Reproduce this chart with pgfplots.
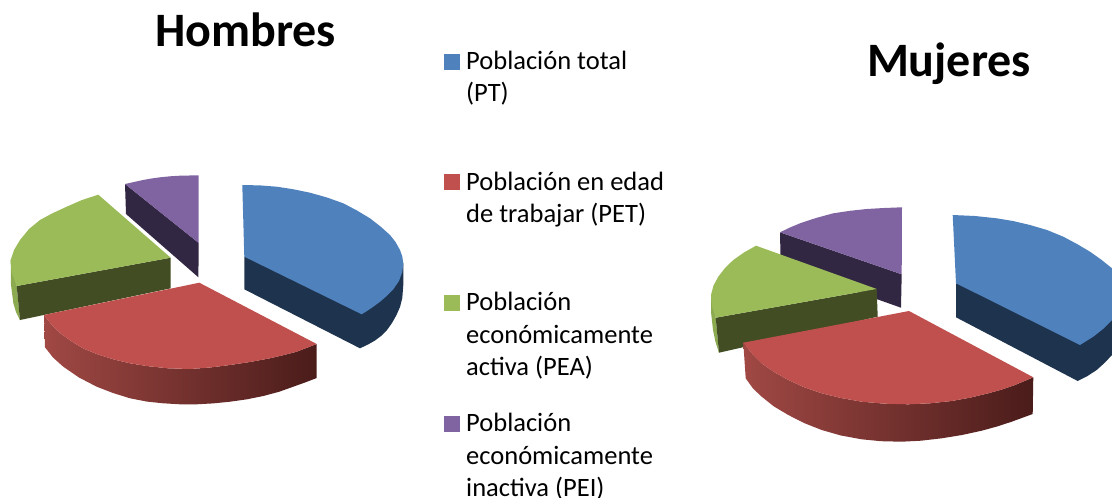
\documentclass[border=0pt]{standalone}
\usepackage{pgfplots}
\pgfplotsset{compat=1.18}
\usepackage{fontspec}
\setmainfont{Carlito}
\definecolor{cb}{RGB}{79,129,189}
\definecolor{cr}{RGB}{192,80,77}
\definecolor{cg}{RGB}{155,187,89}
\definecolor{cp}{RGB}{128,100,162}
\definecolor{db}{RGB}{30,51,77}
\definecolor{dg}{RGB}{66,77,35}
\definecolor{dp}{RGB}{50,39,66}
\definecolor{sg}{RGB}{140,170,80}
\definecolor{rl}{RGB}{160,72,68}
\definecolor{rm}{RGB}{122,50,48}
\definecolor{rd}{RGB}{74,28,26}
\newcommand{\leg}[3]{\node[anchor=base west,inner sep=0pt,font=\fontsize{26.5}{30}\selectfont] at (axis cs:#1,#2) {#3};}
\begin{document}
\begin{tikzpicture}
\useasboundingbox (0,0) rectangle (1112pt,498pt);
\begin{axis}[at={(0,0)},anchor=south west,scale only axis,width=1112pt,height=498pt,xmin=0,xmax=1112,ymin=0,ymax=498,y dir=reverse,hide axis]
% --- Hombres ---
\addplot[fill=dp,draw=none] coordinates {(125,184)(198.7,243)(198.4,277.3)(126,214)} --cycle;
\addplot[fill=cp,draw=none] coordinates {(198.7,243)(125,184)(134,182)(143,180)(151,178.6)(160,177.3)(170,176.3)(180,175.7)(198.7,175.3)} --cycle;
\addplot[fill=sg,draw=none] coordinates {(10.7,260)(16.7,286)(20,320)(16,312)(13.3,303)(11,285)} --cycle;
\addplot[fill=dg,draw=none] coordinates {(16.7,286)(170.7,257.7)(170.7,288.3)(20,320)} --cycle;
\addplot[fill=cg,draw=none] coordinates {(170.7,257.7)(98.3,194.7)(82,200)(66.7,206.7)(52,213.5)(40,220)(29,229)(20,240)(14,250)(10.7,260)(11.5,272)(16.7,286)} --cycle;
\addplot[left color=rl,middle color=rm,right color=rd,draw=none] coordinates {(44,315)(51,324)(60,333)(71,341)(83.3,348.5)(98,354.5)(113.3,359.3)(130,363.3)(146.7,366)(168,368.3)(190,369)(210,367.5)(230,365)(250,362)(270,358.3)(284,355)(296.7,351.7)(316.7,344)(316.7,378)(305,382.5)(293.3,386.7)(279,391.8)(263.3,396)(247,399.3)(230,401.7)(213,403.4)(196.7,404.3)(180,404.3)(163.3,403.3)(147,401.6)(130,398.3)(113,393)(96.7,386.7)(79,377.5)(63.3,366.7)(53,357.5)(45,347.3)} --cycle;
\addplot[fill=cr,draw=none] coordinates {(199.3,282.7)(44,315)(51,324)(60,333)(71,341)(83.3,348.5)(98,354.5)(113.3,359.3)(130,363.3)(146.7,366)(168,368.3)(190,369)(210,367.5)(230,365)(250,362)(270,358.3)(284,355)(296.7,351.7)(316.7,344)} --cycle;
\addplot[fill=db,draw=none] coordinates {(244.3,256.7)(244.3,289.3)(360,348.3)(368,344.5)(375,340.5)(381,336)(387,330)(392,323)(396.5,315)(400,307)(402.3,298)(403.3,285)(403.3,263.3)} --cycle;
\addplot[fill=cb,draw=none] coordinates {(242.3,185)(260,185.4)(276.7,186.7)(293,189.2)(310,192.7)(327,197.5)(343.3,203.3)(357,210.5)(370,218.3)(380.5,226.5)(390,235)(395.5,242)(400,250)(402.3,256.5)(403.3,263.3)(402.3,272)(399,281)(393.5,289)(386.7,296)(380,301.8)(373.3,306.7)(367,311)(361.7,314.3)(244.3,256.7)} --cycle;
% --- Mujeres ---
\addplot[fill=dp,draw=none] coordinates {(780,232.3)(901.7,274.3)(901,307.7)(780.7,265)} --cycle;
\addplot[fill=cp,draw=none] coordinates {(901.7,274.3)(780,232.3)(790,227.5)(800,223.3)(816,218)(833.3,213.3)(850,210.8)(866.7,209)(884,208)(902,207.3)} --cycle;
\addplot[fill=sg,draw=none] coordinates {(711,295)(715.7,317.7)(719,352.7)(715.5,342)(713,330)(711,312)} --cycle;
\addplot[fill=dg,draw=none] coordinates {(715.7,317.7)(876.7,289)(877.7,316.7)(719,352.7)} --cycle;
\addplot[fill=cg,draw=none] coordinates {(876.7,289)(756,245.7)(744,252.5)(733.3,260)(725,268)(718.3,276.7)(713.5,285.5)(711,295)(712,306)(715.7,317.7)} --cycle;
\addplot[left color=rl,middle color=rm,right color=rd,draw=none] coordinates {(743.3,342.7)(752,353.5)(761.7,363.3)(774,372)(788.3,380)(804,387.2)(821.7,393.3)(841,398)(861.7,401.7)(885,403.7)(908.3,404.3)(930,403.3)(951.7,401)(970,397.7)(988.3,393.3)(1002,389.5)(1015,385)(1033.3,377.3)(1032.7,414)(1011.7,421.7)(997,426.5)(981.7,430.7)(962,435)(941.7,438.3)(921,440.7)(901.7,441.7)(881,441.2)(861.7,439.3)(841,435.5)(821.7,430)(804,423)(788.3,415)(774,406.5)(761.7,396.7)(753,388.5)(745.7,378.3)} --cycle;
\addplot[fill=cr,draw=none] coordinates {(909,311)(743.3,342.7)(752,353.5)(761.7,363.3)(774,372)(788.3,380)(804,387.2)(821.7,393.3)(841,398)(861.7,401.7)(885,403.7)(908.3,404.3)(930,403.3)(951.7,401)(970,397.7)(988.3,393.3)(1002,389.5)(1015,385)(1033.3,377.3)} --cycle;
\addplot[fill=db,draw=none] coordinates {(956,283.3)(956,317.3)(1077.7,381)(1087.5,376)(1096.7,370)(1105,362.5)(1112,355)(1112,320)} --cycle;
\addplot[fill=cb,draw=none] coordinates {(952.7,215)(975,216)(996.7,218.3)(1013,221)(1030,225)(1047,230)(1063.3,236.7)(1077,244)(1090,251.7)(1101,259.5)(1112,268.3)(1112,320)(1103,329)(1093.3,336.7)(1080,345)(956,283.3)} --cycle;
% --- legend squares ---
\addplot[only marks,mark=square*,mark size=7.3pt,mark options={fill=cb,draw=cb,line width=0.4pt}] coordinates {(451.5,61.5)};
\addplot[only marks,mark=square*,mark size=7.3pt,mark options={fill=cr,draw=cr,line width=0.4pt}] coordinates {(451.5,181.5)};
\addplot[only marks,mark=square*,mark size=7.3pt,mark options={fill=cg,draw=cg,line width=0.4pt}] coordinates {(451.5,302.5)};
\addplot[only marks,mark=square*,mark size=7.3pt,mark options={fill=cp,draw=cp,line width=0.4pt}] coordinates {(451.5,423.5)};
\node[anchor=base,inner sep=0pt,font=\fontsize{48}{50}\selectfont\bfseries] at (axis cs:245.5,46) {Hombres};
\node[anchor=base,inner sep=0pt,font=\fontsize{48}{50}\selectfont\bfseries] at (axis cs:949,76) {Mujeres};
\leg{466}{69.5}{Población total}
\leg{466}{101.5}{(PT)}
\leg{466}{190}{Población en edad}
\leg{466}{222}{de trabajar (PET)}
\leg{466}{310.7}{Población}
\leg{466}{343.3}{económicamente}
\leg{466}{375}{activa (PEA)}
\leg{466}{431}{Población}
\leg{466}{464.3}{económicamente}
\leg{466}{496.7}{inactiva (PEI)}
\end{axis}
\end{tikzpicture}
\end{document}
